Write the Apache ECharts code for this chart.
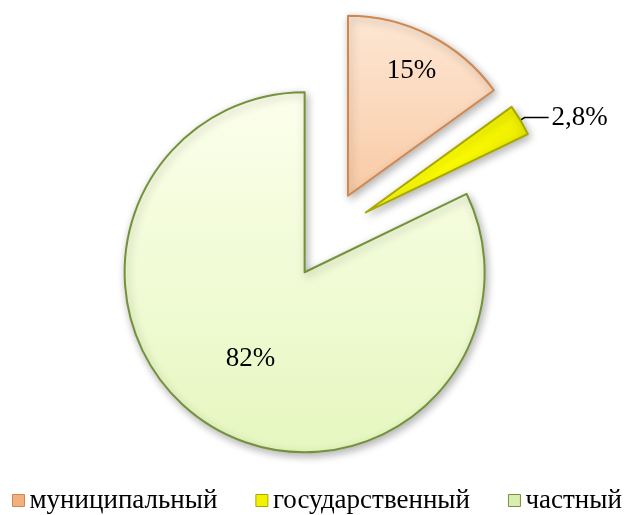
<!DOCTYPE html>
<html>
<head>
<meta charset="utf-8" />
<script src="https://cdn.jsdelivr.net/npm/echarts@6/dist/echarts.min.js"></script>
<style>
  html, body { margin: 0; padding: 0; background: #fff; }
  #chart { width: 631px; height: 515px; }
</style>
</head>
<body>
<div id="chart"></div>
<script>
// данные
const categories = ["муниципальный", "государственный", "частный"]
const values = [15, 2.8, 82]
const valueLabels = ["15%", "2,8%", "82%"]

// где стоит подпись внутри сектора (доля радиуса)
const labelRadius = [0.76, null, 0.55]
const R = 180

const fills = [
  new echarts.graphic.LinearGradient(0, 0, 0, 1, [
    { offset: 0, color: "#FDE7D4" },
    { offset: 1, color: "#F9CBA6" },
  ]),
  new echarts.graphic.LinearGradient(0, 0, 1, 1, [
    { offset: 0, color: "#FFFF40" },
    { offset: 0.5, color: "#FFFF00" },
    { offset: 1, color: "#D8D800" },
  ]),
  new echarts.graphic.LinearGradient(0, 0, 0, 1, [
    { offset: 0, color: "#FCFFEC" },
    { offset: 1, color: "#E6F7C0" },
  ]),
]
const borders = ["#D08850", "#A8A800", "#73923A"]
const legendColors = ["#F2B07E", "#F2F200", "#D9EDB0"]

// середина сектора (угол от 12 часов по часовой стрелке)
const total = values.reduce((a, b) => a + b, 0)
const midAngle = (idx) => {
  let acc = 0
  for (let i = 0; i < idx; i++) acc += values[i]
  return ((acc + values[idx] / 2) / total) * Math.PI * 2
}

const chart = echarts.init(document.getElementById("chart"))

const option = {
  animation: false,
  legend: {
    top: 487,
    left: 12,
    padding: 0,
    itemWidth: 12,
    itemHeight: 12,
    itemGap: 38,
    icon: "rect",
    textStyle: {
      fontFamily: "Liberation Serif",
      fontSize: 27,
      color: "#000",
    },
    data: categories.map((name, i) => ({
      name,
      itemStyle: { color: legendColors[i], borderColor: borders[i], borderWidth: 1 },
    })),
  },
  series: [
    {
      type: "pie",
      center: [328, 235],
      radius: R,
      startAngle: 90,
      clockwise: true,
      avoidLabelOverlap: false,
      selectedMode: "multiple",
      selectedOffset: 44,
      emphasis: { disabled: true },
      itemStyle: {
        borderWidth: 2,
        shadowBlur: 8,
        shadowOffsetX: 2,
        shadowOffsetY: 3,
        shadowColor: "rgba(0,0,0,0.3)",
      },
      label: {
        fontFamily: "Liberation Serif",
        fontSize: 27,
        color: "#000",
        formatter: (p) => valueLabels[p.dataIndex],
      },
      labelLayout: (p) => {
        const k = labelRadius[p.dataIndex]
        if (k == null) return {}
        const a = midAngle(p.dataIndex)
        const shift = (k - 0.5) * R
        return { dx: Math.sin(a) * shift, dy: -Math.cos(a) * shift }
      },
      data: categories.map((name, i) => ({
        name,
        value: values[i],
        selected: true,
        selectedOffset: i === 1 ? 48 : 44,
        itemStyle: { color: fills[i], borderColor: borders[i] },
        label: i === 1
          ? { position: "outside", distanceToLabelLine: 3 }
          : { position: "inside" },
        labelLine: i === 1
          ? { show: true, length: 5, length2: 24, lineStyle: { color: "#000", width: 1.5 } }
          : { show: false },
      })),
    },
  ],
}

chart.setOption(option)
</script>
</body>
</html>
